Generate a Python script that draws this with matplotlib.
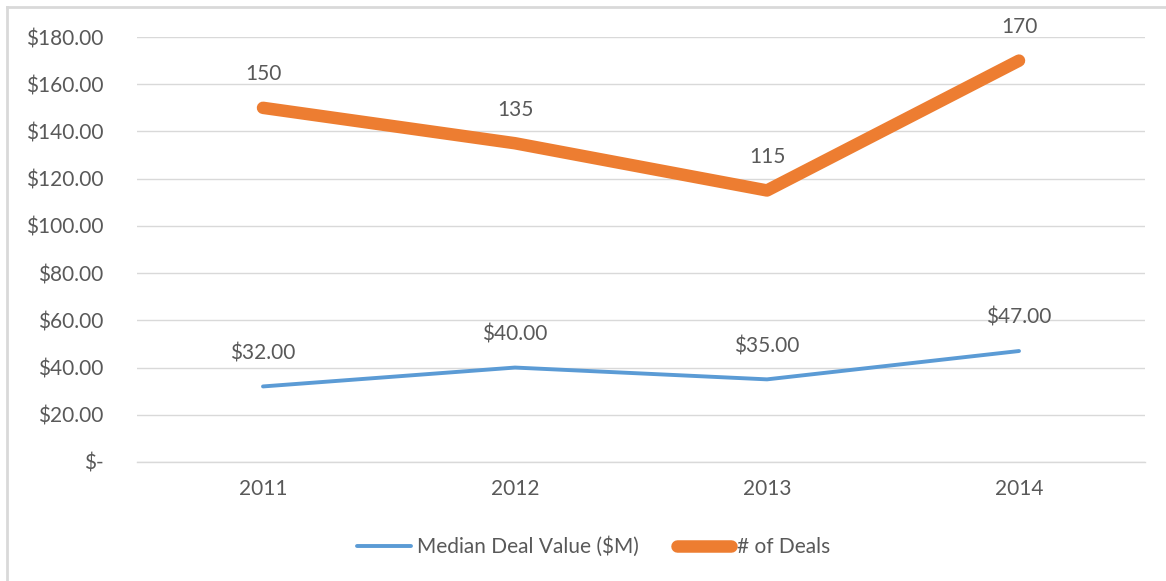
import matplotlib.pyplot as plt
from matplotlib.lines import Line2D

# Data
years = ['2011', '2012', '2013', '2014']
median_value = [32, 40, 35, 47]
num_deals = [150, 135, 115, 170]
yticks = [0, 20, 40, 60, 80, 100, 120, 140, 160, 180]
ytick_labels = ['$-', '$20.00', '$40.00', '$60.00', '$80.00', '$100.00',
                '$120.00', '$140.00', '$160.00', '$180.00']

blue = '#5B9BD5'
orange = '#ED7D31'
text_gray = '#595959'
grid_gray = '#D9D9D9'

plt.rcParams['font.family'] = ['Lato', 'DejaVu Sans']

fig = plt.figure(figsize=(11.66, 5.81), dpi=100)
ax = fig.add_axes([137 / 1166, 1 - 462 / 581, (1145 - 137) / 1166, (462 - 37) / 581])

x = list(range(len(years)))
ax.plot(x, median_value, color=blue, lw=2.8, solid_capstyle='round',
        solid_joinstyle='round', label='Median Deal Value ($M)', zorder=3)
ax.plot(x, num_deals, color=orange, lw=9, solid_capstyle='round',
        solid_joinstyle='round', label='# of Deals', zorder=3)

for xi, v in zip(x, median_value):
    ax.annotate(f'${v:.2f}', (xi, v), xytext=(0, 24), textcoords='offset points',
                ha='center', va='center', fontsize=15, color=text_gray)
for xi, v in zip(x, num_deals):
    ax.annotate(f'{v}', (xi, v), xytext=(0, 24), textcoords='offset points',
                ha='center', va='center', fontsize=15, color=text_gray)

ax.set_xlim(-0.5, 3.5)
ax.set_ylim(0, 180)
ax.set_xticks(x)
ax.set_xticklabels(years)
ax.set_yticks(yticks)
ax.set_yticklabels(ytick_labels)
ax.tick_params(axis='both', length=0, labelsize=15, colors=text_gray)
ax.tick_params(axis='y', pad=24)
ax.tick_params(axis='x', pad=12)
ax.grid(axis='y', color=grid_gray, lw=1)
ax.axhline(0, color=grid_gray, lw=1, clip_on=False, zorder=0.5)
ax.set_axisbelow(True)
for s in ax.spines.values():
    s.set_visible(False)

handles = [Line2D([], [], color=blue, lw=2.8, solid_capstyle='round'),
           Line2D([], [], color=orange, lw=9, solid_capstyle='round')]
fig.legend(handles, ['Median Deal Value ($M)', '# of Deals'], loc='center',
           bbox_to_anchor=(0.509, 1 - 547 / 581), ncol=2, frameon=False,
           fontsize=15, labelcolor=text_gray, handlelength=2.6,
           handletextpad=0.3, columnspacing=1.8)

# chart frame (top and left edges visible in the reference)
fig.add_artist(Line2D([7 / 1166, 7 / 1166], [0, 1 - 7 / 581], color=grid_gray, lw=2,
                      transform=fig.transFigure))
fig.add_artist(Line2D([7 / 1166, 1], [1 - 7 / 581, 1 - 7 / 581], color=grid_gray, lw=2,
                      transform=fig.transFigure))

fig.savefig('out.png', dpi=100)
